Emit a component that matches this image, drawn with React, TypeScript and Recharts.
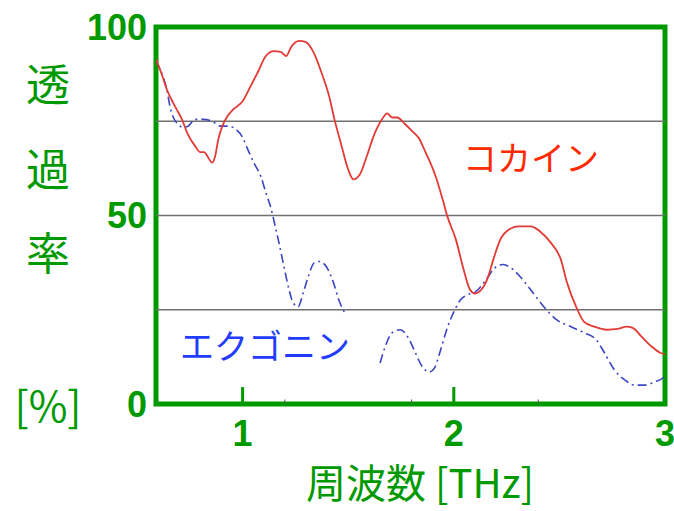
import React from 'react';
import { LineChart, Line, XAxis, YAxis, ReferenceLine, ReferenceArea } from 'recharts';

const GREEN = '#009a00';
const RED = '#e23a35';
const BLUE = '#3a45c0';

const xTicks = [1, 2, 3];
const yTicks = [0, 50, 100];
const gridValues = [25, 50, 75];
const majorTicks = [1, 2];
const minorTicks = [1.2, 1.8, 2.4];

const cocaineFreq = [
  0.59, 0.62, 0.641, 0.67, 0.689, 0.713, 0.737, 0.775, 0.8, 0.818, 0.837, 0.856, 0.87, 0.885, 0.904,
  0.928, 0.957, 1.0, 1.038, 1.072, 1.11, 1.148, 1.18, 1.206, 1.23, 1.268, 1.3, 1.335, 1.373, 1.41,
  1.435, 1.469, 1.5, 1.524, 1.555, 1.588, 1.62, 1.66, 1.684, 1.708, 1.732, 1.77, 1.804, 1.835, 1.866,
  1.914, 1.947, 1.97, 2.01, 2.043, 2.077, 2.1, 2.13, 2.163, 2.187, 2.22, 2.268, 2.306, 2.364, 2.41,
  2.459, 2.507, 2.536, 2.579, 2.617, 2.665, 2.727, 2.775, 2.818, 2.847, 2.89, 2.938, 2.976, 3.0,
];
const cocaineT = [
  91.5, 87, 83.5, 80, 78, 75.5, 72, 68.4, 66.8, 66.8, 65.4, 64, 65.7, 70.2, 73.7,
  76.3, 78.2, 80.3, 84.3, 88, 92.3, 93.6, 93.4, 92.3, 94.7, 96.3, 96, 93.4, 88, 81.6,
  75.5, 68.4, 62.2, 59.6, 60.9, 65.7, 71, 75.5, 77.1, 76, 76, 74.2, 72.3, 70.5, 66.8,
  60.4, 54.3, 49.7, 43.6, 36.4, 30.3, 29.3, 30.3, 33.8, 38.3, 43.6, 46.5, 47.1, 47.1, 45.7,
  42.8, 38.3, 32.2, 25.8, 21.8, 20.5, 19.7, 19.9, 20.5, 20.2, 17.8, 15.2, 13.6, 13.2,
];

const ecgonineFreq = [
  0.59, 0.622, 0.641, 0.656, 0.67, 0.694, 0.718, 0.742, 0.775, 0.813, 0.856, 0.895, 0.933, 0.967,
  1.0, 1.024, 1.053, 1.086, 1.11, 1.134, 1.155, 1.172, 1.196, 1.22, 1.239, 1.263, 1.287, 1.311,
  1.34, 1.364, 1.397, 1.43, 1.455, 1.483, 1.56, 1.651, 1.675, 1.708, 1.746, 1.79, 1.818, 1.852,
  1.885, 1.909, 1.938, 1.971, 2.005, 2.033, 2.067, 2.105, 2.153, 2.196, 2.234, 2.268, 2.306,
  2.364, 2.426, 2.488, 2.555, 2.617, 2.675, 2.713, 2.761, 2.809, 2.856, 2.904, 2.952, 2.99, 3.0,
];
const ecgonineT: (number | null)[] = [
  91, 87, 83.5, 79, 76.3, 74.2, 73.4, 73.7, 75.5, 75.5, 75, 73.7, 73.7, 72.9,
  70.7, 67.6, 64, 60.4, 56.1, 52, 47, 42.8, 36.4, 30.3, 26.9, 25.8, 29.5, 33.8,
  37.5, 37.8, 36.4, 32.2, 27.7, 24.2, null, 10.9, 15.2, 18.9, 19.7, 17, 13.6, 9.8,
  8.5, 9.6, 14.4, 20.5, 25, 27.7, 29, 29.8, 33, 36.2, 37, 36.2, 34.3,
  30.3, 25.8, 22.3, 20.5, 18.9, 17, 13.6, 9, 6.4, 5, 5, 5.9, 6.9, 7.5,
];

const cocaineData = cocaineFreq.map((f, i) => ({ f, t: cocaineT[i] }));
const ecgonineData = ecgonineFreq.map((f, i) => ({ f, t: ecgonineT[i] }));

const yLabelChars = ['透', '過', '率'];
const yLabelY = [82, 167, 251];

const CJK = '"Noto Sans CJK JP", "Noto Sans", sans-serif';
const tickStyle = { fill: GREEN, fontSize: 36, fontWeight: 700, fontFamily: '"Liberation Sans", Arial, sans-serif' };

export default function App() {
  return (
    <div style={{ position: 'absolute', left: 0, top: 0, width: 674, height: 511, background: '#fff', overflow: 'hidden' }}>
      <LineChart width={674} height={511} margin={{ top: 27, right: 9, bottom: 47, left: 56 }}>
        <XAxis
          type="number"
          dataKey="f"
          domain={[0.59, 3]}
          ticks={xTicks}
          interval={0}
          allowDataOverflow
          height={60}
          axisLine={false}
          tickLine={false}
          tickSize={0}
          tickMargin={16}
          tick={tickStyle}
        />
        <YAxis
          type="number"
          domain={[0, 100]}
          ticks={yTicks}
          interval={0}
          width={100}
          axisLine={false}
          tickLine={false}
          tickSize={0}
          tickMargin={9}
          tick={tickStyle}
        />
        {gridValues.map((v) => (
          <ReferenceLine key={v} y={v} stroke="#707070" strokeWidth={1.5} />
        ))}
        {minorTicks.map((v) => (
          <ReferenceLine key={'m' + v} segment={[{ x: v, y: 0 }, { x: v, y: 1.2 }]} stroke="#555" strokeWidth={1} />
        ))}
        {majorTicks.map((v) => (
          <ReferenceLine key={'M' + v} segment={[{ x: v, y: 0 }, { x: v, y: 4.5 }]} stroke={GREEN} strokeWidth={3} />
        ))}
        <Line
          data={ecgonineData}
          dataKey="t"
          type="monotone"
          stroke={BLUE}
          strokeWidth={1.6}
          strokeDasharray="9 4 2 4"
          dot={false}
          connectNulls={false}
          isAnimationActive={false}
        />
        <Line
          data={cocaineData}
          dataKey="t"
          type="monotone"
          stroke={RED}
          strokeWidth={1.8}
          dot={false}
          isAnimationActive={false}
        />
        <ReferenceArea x1={0.59} x2={3} y1={0} y2={100} fill="none" fillOpacity={0} stroke={GREEN} strokeWidth={5} ifOverflow="visible" />
      </LineChart>
      <svg width={674} height={511} style={{ position: 'absolute', left: 0, top: 0, pointerEvents: 'none' }}>
        {yLabelChars.map((c, i) => (
          <text key={c} x={48} y={yLabelY[i]} textAnchor="middle" dominantBaseline="central" fill={GREEN} fontSize={44} fontFamily={CJK}>
            {c}
          </text>
        ))}
        <text x={48} y={403} textAnchor="middle" dominantBaseline="central" fill={GREEN} fontSize={42} fontFamily={CJK}>
          [%]
        </text>
        <text x={420} y={481} textAnchor="middle" dominantBaseline="central" fill={GREEN} fontSize={40} fontFamily={CJK}>
          周波数 [THz]
        </text>
        <text x={463} y={156} textAnchor="start" dominantBaseline="central" fill="#ff2a00" fontSize={34} fontFamily={CJK}>
          コカイン
        </text>
        <text x={180} y={344} textAnchor="start" dominantBaseline="central" fill="#1f3cff" fontSize={34} fontFamily={CJK}>
          エクゴニン
        </text>
      </svg>
    </div>
  );
}
